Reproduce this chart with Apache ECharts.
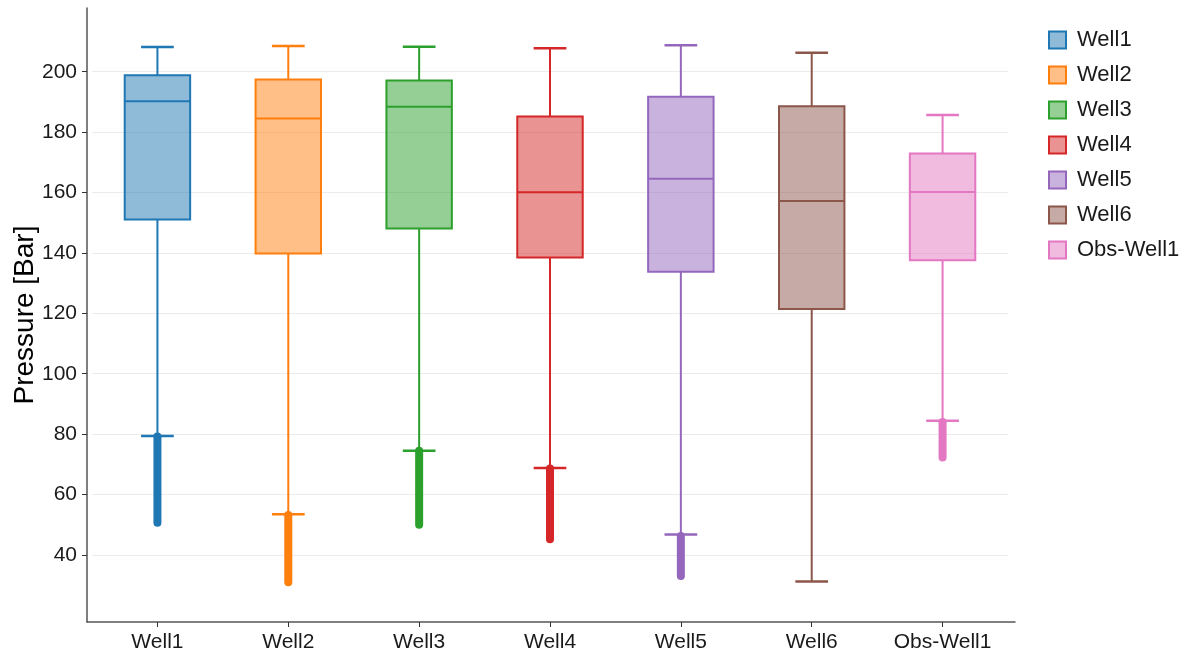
<!DOCTYPE html>
<html>
<head>
<meta charset="utf-8">
<title>Pressure by well</title>
<script src="https://cdn.jsdelivr.net/npm/echarts@6/dist/echarts.min.js"></script>
<style>
  html, body { margin: 0; padding: 0; background: #fff; }
  #chart { width: 1195px; height: 659px; }
</style>
</head>
<body>
<div id="chart"></div>
<script>
// wells on the x axis
var categories = ['Well1', 'Well2', 'Well3', 'Well4', 'Well5', 'Well6', 'Obs-Well1'];
// box statistics (Bar)
var whiskerLow  = [79.4, 53.5, 74.5, 68.8, 46.8, 31.2, 84.4];
var q1          = [151.1, 139.8, 148.1, 138.5, 133.8, 121.4, 137.6];
var median      = [190.2, 184.5, 188.4, 160.1, 164.6, 157.2, 160.2];
var q3          = [198.8, 197.4, 197.1, 185.2, 191.7, 188.6, 172.9];
var whiskerHigh = [208.2, 208.5, 208.3, 207.8, 208.8, 206.3, 185.7];
// outliers below the lower whisker (highest / lowest), Well6 has none
var outlierHigh = [79.2, 53.2, 74.5, 68.6, 46.3, null, 84.0];
var outlierLow  = [50.7, 31.0, 50.0, 45.2, 33.0, null, 72.3];
// y axis ticks
var yTicks = [40, 60, 80, 100, 120, 140, 160, 180, 200];
var yMin = 17.8, yMax = 221.1;

var colors = ['#1f77b4', '#ff7f0e', '#2ca02c', '#d62728', '#9467bd', '#8c564b', '#e377c2'];

function fade(hex, a) {
    var n = parseInt(hex.slice(1), 16);
    return 'rgba(' + (n >> 16) + ',' + ((n >> 8) & 255) + ',' + (n & 255) + ',' + a + ')';
}

var font = 'Liberation Sans, Arial, sans-serif';

function renderBox(params, api) {
    var color = colors[params.seriesIndex];
    var x = api.value(0);
    var band = api.size([1, 0])[0];
    var boxW = band * 0.5;
    var capW = band * 0.25;
    var cx = api.coord([x, api.value(3)])[0];
    var y = function (dim) { return api.coord([x, api.value(dim)])[1]; };
    var yWl = y(1), yQ1 = y(2), yMed = y(3), yQ3 = y(4), yWh = y(5);
    var line = function (x1, y1, x2, y2, w) {
        return {
            type: 'line',
            shape: { x1: x1, y1: y1, x2: x2, y2: y2 },
            style: { stroke: color, lineWidth: w, lineCap: 'butt' }
        };
    };
    var children = [];
    var oHi = api.value(6), oLo = api.value(7);
    if (!isNaN(oHi) && !isNaN(oLo)) {
        children.push({
            type: 'line',
            shape: { x1: cx, y1: y(6), x2: cx, y2: y(7) },
            style: { stroke: color, lineWidth: 8, lineCap: 'round' }
        });
    }
    children.push(line(cx, yQ3, cx, yWh, 2));
    children.push(line(cx, yQ1, cx, yWl, 2));
    children.push(line(cx - capW / 2, yWh, cx + capW / 2, yWh, 2.5));
    children.push(line(cx - capW / 2, yWl, cx + capW / 2, yWl, 2.5));
    children.push({
        type: 'rect',
        shape: { x: cx - boxW / 2, y: yQ3, width: boxW, height: yQ1 - yQ3 },
        style: { fill: fade(color, 0.5), stroke: color, lineWidth: 2 }
    });
    children.push(line(cx - boxW / 2, yMed, cx + boxW / 2, yMed, 2));
    return { type: 'group', children: children };
}

var series = categories.map(function (name, i) {
    return {
        name: name,
        type: 'custom',
        xAxisIndex: 0,
        yAxisIndex: 0,
        renderItem: renderBox,
        itemStyle: { color: fade(colors[i], 0.5), borderColor: colors[i], borderWidth: 2 },
        encode: { x: 0, y: [1, 2, 3, 4, 5] },
        data: [[i, whiskerLow[i], q1[i], median[i], q3[i], whiskerHigh[i],
                outlierHigh[i] == null ? '-' : outlierHigh[i],
                outlierLow[i] == null ? '-' : outlierLow[i]]]
    };
});

var chart = echarts.init(document.getElementById('chart'));
var option = {
    backgroundColor: '#fff',
    animation: false,
    legend: {
        orient: 'vertical',
        left: 1043,
        top: 24,
        itemWidth: 17,
        itemHeight: 17,
        itemGap: 13,
        textStyle: { fontSize: 22, color: '#1a1a1a', fontFamily: font, padding: [0, 0, 0, 6] },
        data: categories.map(function (c, i) {
            return {
                name: c,
                icon: 'rect',
                itemStyle: { color: fade(colors[i], 0.5), borderColor: colors[i], borderWidth: 2 }
            };
        })
    },
    grid: [
        // panel with the boxes and grid lines
        { left: 92, right: 187, top: 8, bottom: 37, outerBoundsMode: 'none' },
        // slightly wider frame for the axis lines, ggplot style
        { left: 87, right: 180, top: 8, bottom: 37, outerBoundsMode: 'none' }
    ],
    xAxis: [
        {
            type: 'category',
            gridIndex: 0,
            data: categories,
            axisLine: { show: false },
            axisTick: { show: true, length: 5, lineStyle: { color: '#333' }, alignWithLabel: true },
            axisLabel: { fontSize: 21, color: '#1a1a1a', fontFamily: font, margin: 10 },
            splitLine: { show: false }
        },
        {
            type: 'value',
            gridIndex: 1,
            min: 0,
            max: 1,
            axisLine: { show: true, lineStyle: { color: '#555', width: 1.5 } },
            axisTick: { show: false },
            axisLabel: { show: false },
            splitLine: { show: false }
        }
    ],
    yAxis: [
        {
            type: 'value',
            gridIndex: 0,
            min: yMin,
            max: yMax,
            axisLine: { show: false },
            axisTick: { show: false, customValues: yTicks },
            axisLabel: { show: false, customValues: yTicks },
            splitLine: { show: true, lineStyle: { color: '#ebebeb', width: 1 } }
        },
        {
            type: 'value',
            gridIndex: 1,
            min: yMin,
            max: yMax,
            name: 'Pressure [Bar]',
            nameLocation: 'middle',
            nameGap: 48,
            nameMoveOverlap: false,
            nameTextStyle: { fontSize: 28, color: '#000', fontFamily: font },
            axisLine: { show: true, lineStyle: { color: '#555', width: 1.5 } },
            axisTick: { show: true, length: 5, lineStyle: { color: '#333' }, customValues: yTicks },
            axisLabel: { fontSize: 21, color: '#1a1a1a', fontFamily: font, margin: 10, customValues: yTicks },
            splitLine: { show: false }
        }
    ],
    series: series
};
chart.setOption(option);
</script>
</body>
</html>
